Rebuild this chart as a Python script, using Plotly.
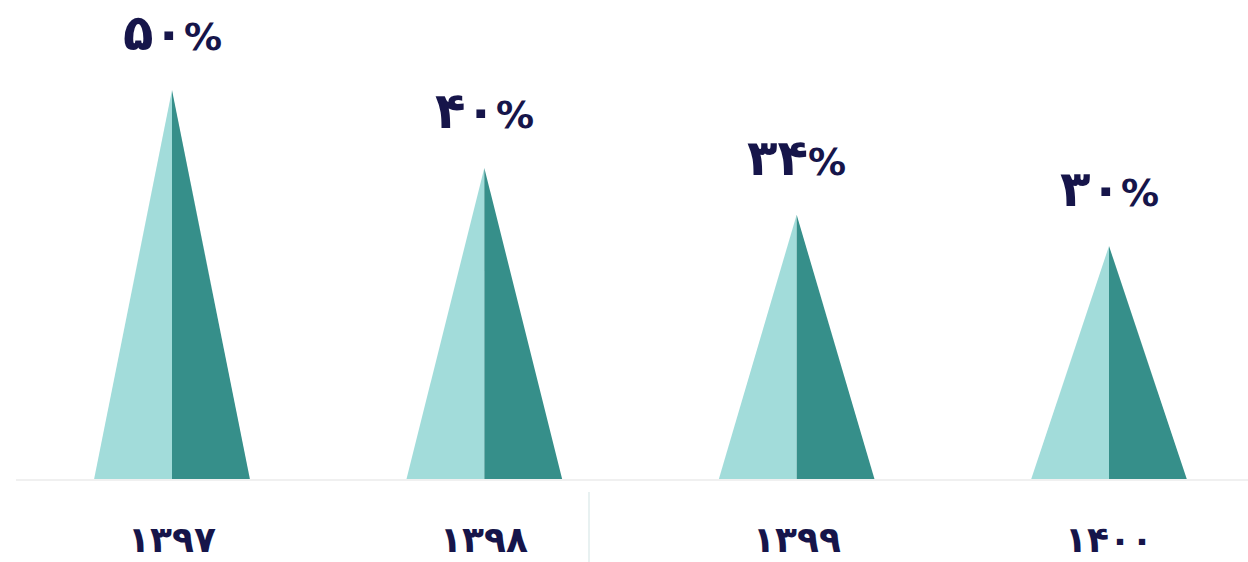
import plotly.graph_objects as go

years = ["۱۳۹۷", "۱۳۹۸", "۱۳۹۹", "۱۴۰۰"]
values = [50, 40, 34, 30]
value_digits = ["۵۰", "۴۰", "۳۴", "۳۰"]

LIGHT = "#a2dcda"
DARK = "#368f8a"
NAVY = "#16154a"
HALF = 0.25

fig = go.Figure()
for i, v in enumerate(values):
    fig.add_trace(go.Scatter(x=[i - HALF, i, i, i - HALF], y=[0, v, 0, 0], fill="toself",
                             fillcolor=LIGHT, mode="none", hoverinfo="skip", showlegend=False))
    fig.add_trace(go.Scatter(x=[i, i + HALF, i, i], y=[v, 0, 0, v], fill="toself",
                             fillcolor=DARK, mode="none", hoverinfo="skip", showlegend=False))
    label = f"{value_digits[i]}<span style='font-size:38px'>%</span>"
    fig.add_annotation(x=i, y=v, text=label, showarrow=False, yshift=57,
                       font=dict(family="DejaVu Sans", size=50, color=NAVY, weight="bold"))
    fig.add_annotation(x=i, y=0, text=years[i], showarrow=False, yshift=-59,
                       font=dict(family="DejaVu Sans", size=36, color=NAVY, weight="bold"))

fig.add_shape(type="line", xref="paper", yref="y", x0=16/1248, x1=1, y0=0, y1=0,
              line=dict(color="#f0f0f0", width=2))
fig.add_shape(type="line", xref="paper", yref="paper", x0=589/1248, x1=589/1248, y0=0, y1=70/562,
              line=dict(color="#e8f1f1", width=2))

fig.update_layout(
    width=1248, height=562,
    margin=dict(l=0, r=0, t=0, b=0),
    paper_bgcolor="white", plot_bgcolor="white",
    xaxis=dict(range=[-0.5507, 3.445], visible=False, fixedrange=True),
    yaxis=dict(range=[-10.513, 61.538], visible=False, fixedrange=True),
)
fig.write_html("out.html", config={"displayModeBar": False},
               post_script="document.body.style.margin='0';")
